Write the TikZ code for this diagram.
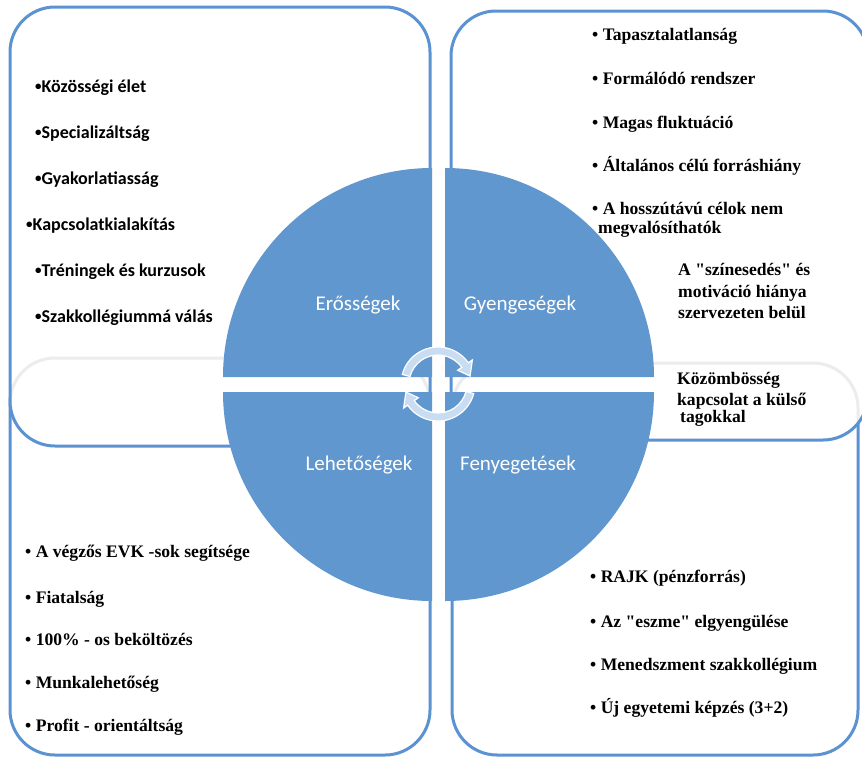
\documentclass[tikz,border=0pt]{standalone}
\usepackage{fontspec}
\setmainfont{Liberation Serif}[Ligatures=TeXOff]
\newfontfamily\carlito{Carlito}
\definecolor{boxblue}{RGB}{91,146,210}
\definecolor{circfill}{RGB}{96,151,206}
\definecolor{arrowfill}{RGB}{200,220,242}
\definecolor{faintgray}{RGB}{236,236,236}
\newcommand{\smallbul}{\raisebox{0.08em}{\fontsize{13}{13}\selectfont•}}
\begin{document}
\begin{tikzpicture}[x=1pt,y=-1pt,
  boxline/.style={draw=boxblue, line width=3pt, rounded corners=45pt},
  faintline/.style={draw=faintgray, line width=3pt, rounded corners=45pt},
  quad/.style={fill=circfill},
  cycarrow/.style={fill=arrowfill, draw=white, line width=1.2pt},
  qlabel/.style={text=white, font=\carlito\fontsize{21}{25}\selectfont, anchor=base, inner sep=0pt},
  sitem/.style={font=\carlito\bfseries\fontsize{18}{22}\selectfont, anchor=base west, inner sep=0pt},
  titem/.style={font=\bfseries\fontsize{17.6}{20}\selectfont, anchor=base west, inner sep=0pt}]
\useasboundingbox (0,0) rectangle (862,758);
\clip (0,0) rectangle (862,758);
% lower boxes
\path[boxline, fill=white] (10,358) rectangle (430,755);
\path[boxline, fill=white] (452,363) rectangle (858,755);
% upper boxes fill
\fill[white, rounded corners=45pt] (10,7) rectangle (430,446);
\fill[white, rounded corners=45pt] (451,11) rectangle (868,440);
% faint edges of lower boxes under upper boxes
\begin{scope}
  \clip[rounded corners=45pt] (10,7) rectangle (430,446);
  \path[faintline] (10,358) rectangle (430,755);
\end{scope}
\begin{scope}
  \clip[rounded corners=45pt] (451,11) rectangle (868,440);
  \path[faintline] (452,363) rectangle (858,755);
\end{scope}
% upper boxes strokes
\path[boxline] (10,7) rectangle (430,446);
\path[boxline] (451,11) rectangle (868,440);
% circle quadrants
\fill[quad] (432,377) -- +(180:209) arc[start angle=180,end angle=270,radius=209] -- cycle;
\fill[quad] (445,377) -- +(270:209) arc[start angle=270,end angle=360,radius=209] -- cycle;
\fill[quad] (445,392) -- +(0:209) arc[start angle=0,end angle=90,radius=209] -- cycle;
\fill[quad] (432,392) -- +(90:209) arc[start angle=90,end angle=180,radius=209] -- cycle;
% cycle arrows
\begin{scope}[shift={(438,384)}, yscale=-1]
  \path[cycarrow] (165:37) arc[start angle=165,end angle=35,radius=37] -- (35:42) -- (14:33) -- (35:24) -- (35:29) arc[start angle=35,end angle=165,radius=29] -- cycle;
  \path[cycarrow] (-15:37) arc[start angle=-15,end angle=-145,radius=37] -- (-145:42) -- (-166:33) -- (-145:24) -- (-145:29) arc[start angle=-145,end angle=-15,radius=29] -- cycle;
\end{scope}
% quadrant labels
\node[qlabel] (erossegek) at (358,310) {Erősségek};
\node[qlabel] (gyengesegek) at (520,310) {Gyengeségek};
\node[qlabel] (lehetosegek) at (359,470) {Lehetőségek};
\node[qlabel] (fenyegetesek) at (518,470) {Fenyegetések};
% strengths
\node[sitem] (s1) at (35,92) {\smallbul Közösségi élet};
\node[sitem] (s2) at (35,138) {\smallbul Specializáltság};
\node[sitem] (s3) at (35,184) {\smallbul Gyakorlatiasság};
\node[sitem] (s4) at (26,230) {\smallbul Kapcsolatkialakítás};
\node[sitem] (s5) at (35,276) {\smallbul Tréningek és kurzusok};
\node[sitem] (s6) at (35,322) {\smallbul Szakkollégiummá válás};
% weaknesses
\node[titem] (w1) at (592,40.5) {• Tapasztalatlanság};
\node[titem] (w2) at (592,84.5) {• Formálódó rendszer};
\node[titem] (w3) at (592,128.5) {• Magas fluktuáció};
\node[titem] (w4) at (592,171.5) {• Általános célú forráshiány};
\node[titem] (w5) at (592,214.5) {• A hosszútávú célok nem};
\node[titem] (w5b) at (598,233.5) {megvalósíthatók};
\node[titem] (w6a) at (678,275.5) {A "színesedés" és};
\node[titem] (w6b) at (678,297.5) {motiváció hiánya};
\node[titem] (w6c) at (678,318.5) {szervezeten belül};
\node[titem] (w7a) at (677,384) {Közömbösség};
\node[titem] (w7b) at (677,405) {kapcsolat a külső};
\node[titem] (w7c) at (680,422) {tagokkal};
% opportunities
\node[titem] (o1) at (25,557.5) {• A végzős EVK -sok segítsége};
\node[titem] (o2) at (25,603.5) {• Fiatalság};
\node[titem] (o3) at (25,645.5) {• 100\% - os beköltözés};
\node[titem] (o4) at (25,688.5) {• Munkalehetőség};
\node[titem] (o5) at (25,731.5) {• Profit - orientáltság};
% threats
\node[titem] (t1) at (590,582) {• RAJK (pénzforrás)};
\node[titem] (t2) at (590,627) {• Az "eszme" elgyengülése};
\node[titem] (t3) at (590,670) {• Menedszment szakkollégium};
\node[titem] (t4) at (590,713) {• Új egyetemi képzés (3+2)};
\end{tikzpicture}
\end{document}
